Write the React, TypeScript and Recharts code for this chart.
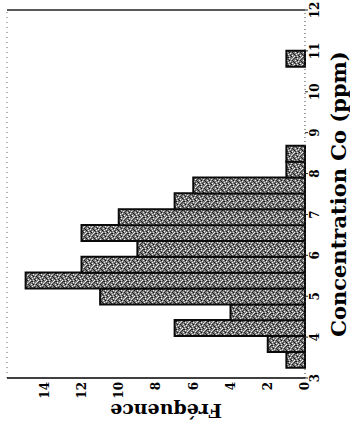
import React from 'react';
import { ComposedChart, Bar, XAxis, YAxis, ReferenceLine } from 'recharts';

// Histogram of cobalt concentration: bin centres (ppm), bin width 0.3875
const binCenters = [
  3.444, 3.831, 4.219, 4.606, 4.994, 5.381, 5.769, 6.156, 6.544, 6.931,
  7.319, 7.706, 8.094, 8.481, 8.869, 9.256, 9.644, 10.031, 10.419, 10.806,
];
const counts = [1, 2, 7, 4, 11, 15, 12, 9, 12, 10, 7, 6, 1, 1, 0, 0, 0, 0, 0, 1];

const concTicks = [3, 4, 5, 6, 7, 8, 9, 10, 11, 12];
const freqTicks = [0, 2, 4, 6, 8, 10, 12, 14];

const xLabel = 'Concentration Co (ppm)';
const yLabel = 'Fréquence';

const data = binCenters.map((c, i) => ({ conc: c, freq: counts[i] }));

const FONT = '"DejaVu Serif", serif';

// speckled halftone fill for the bars (8x8 tile)
const specks: Array<[number, number, string]> = [
  [0, 0, '#1a1a1a'], [3, 0, '#f4f4f4'], [6, 0, '#333'],
  [1, 1, '#ddd'], [5, 1, '#111'], [7, 1, '#fff'],
  [2, 2, '#222'], [4, 2, '#eee'], [0, 2, '#555'],
  [6, 3, '#f0f0f0'], [1, 3, '#111'], [3, 3, '#444'],
  [5, 4, '#222'], [7, 4, '#ccc'], [2, 4, '#fff'],
  [0, 5, '#e8e8e8'], [4, 5, '#1c1c1c'], [6, 5, '#444'],
  [3, 6, '#111'], [1, 6, '#f2f2f2'], [7, 6, '#2a2a2a'],
  [5, 7, '#eee'], [2, 7, '#333'], [0, 7, '#222'],
];

function Patterns() {
  return (
    <svg width={0} height={0} style={{ position: 'absolute' }}>
      <defs>
        <pattern id="grain" width={8} height={8} patternUnits="userSpaceOnUse">
          <rect width={8} height={8} fill="#7c7c7c" />
          {specks.map(([x, y, f], i) => (
            <rect key={i} x={x} y={y} width={1} height={1} fill={f} />
          ))}
        </pattern>
      </defs>
    </svg>
  );
}

export default function App() {
  return (
    <div
      style={{
        position: 'absolute',
        left: 0,
        top: 0,
        width: 350,
        height: 434,
        overflow: 'hidden',
        background: '#fff',
      }}
    >
      <Patterns />
      <div
        style={{
          position: 'absolute',
          left: -42,
          top: 42,
          width: 434,
          height: 350,
          transform: 'rotate(-90deg)',
        }}
      >
        <ComposedChart
          width={434}
          height={350}
          data={data}
          margin={{ top: 7, right: 10, bottom: 0, left: 0 }}
          barCategoryGap={0}
          barGap={0}
        >
          <XAxis
            dataKey="conc"
            type="number"
            domain={[3, 12]}
            ticks={concTicks}
            interval={0}
            height={45}
            tickSize={3}
            tickMargin={2}
            axisLine={{ stroke: '#444', strokeDasharray: '1 3' }}
            tickLine={{ stroke: '#222' }}
            tick={{ fill: '#000', fontSize: 12, fontWeight: 'bold', fontFamily: FONT }}
            label={{
              value: xLabel,
              position: 'insideBottom',
              offset: 4,
              fill: '#000',
              fontSize: 21,
              fontWeight: 'bold',
              fontFamily: FONT,
            }}
          />
          <YAxis
            type="number"
            domain={[0, 16]}
            ticks={freqTicks}
            interval={0}
            width={56}
            tickLine={false}
            tickSize={2}
            tickMargin={2}
            axisLine={{ stroke: '#000', strokeWidth: 1.5 }}
            tick={{ fill: '#000', fontSize: 12, fontWeight: 'bold', fontFamily: FONT }}
            label={{
              value: yLabel,
              angle: -90,
              position: 'insideLeft',
              offset: 23,
              dy: 10,
              fill: '#000',
              fontSize: 19,
              fontWeight: 'bold',
              fontFamily: FONT,
              style: { textAnchor: 'middle' },
            }}
          />
          <ReferenceLine y={16} stroke="#666" strokeDasharray="1 4" />
          <ReferenceLine x={12} stroke="#222" strokeWidth={1.5} />
          <Bar
            dataKey="freq"
            fill="url(#grain)"
            stroke="#0a0a0a"
            strokeWidth={2}
            isAnimationActive={false}
          />
        </ComposedChart>
      </div>
    </div>
  );
}
